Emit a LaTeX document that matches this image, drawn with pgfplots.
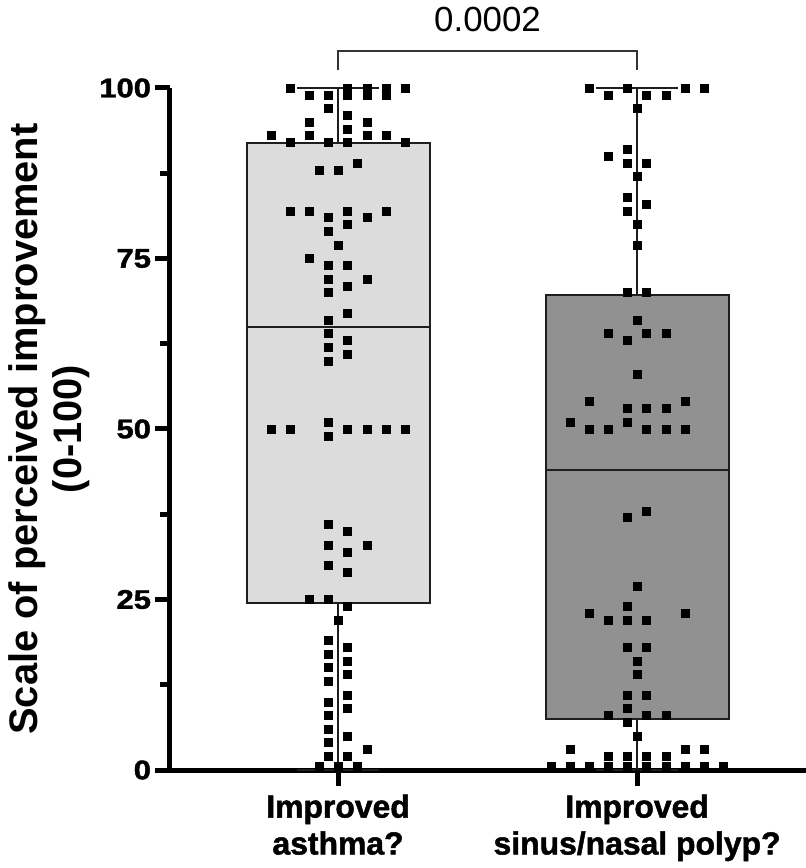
\documentclass[border=0pt]{standalone}
\usepackage{fontspec}
\setmainfont{Liberation Sans}
\newfontfamily\heavy[FakeBold=1.5]{Liberation Sans Bold}
\usepackage{pgfplots}
\pgfplotsset{compat=1.18}
\usepgfplotslibrary{statistics}
\definecolor{boxone}{RGB}{220,220,220}
\definecolor{boxtwo}{RGB}{145,145,145}
\definecolor{boxline}{RGB}{30,30,30}
\begin{document}
\begin{tikzpicture}
\begin{axis}[
  width=636bp, height=682bp, scale only axis,
  xmin=0.438, xmax=2.565, ymin=0, ymax=100,
  axis x line=bottom, axis y line=left,
  axis line style={-, line width=5bp, black},
  clip=false,
  boxplot/draw direction=y,
  /pgf/number format/assume math mode=true,
  xtick={1,2},
  xticklabels={{Improved\\asthma?},{Improved\\sinus/nasal polyp?}},
  xticklabel style={align=center, font=\fontsize{32}{37}\selectfont\heavy, yshift=-6bp},
  ytick={0,25,50,75,100},
  minor ytick={12.5,37.5,62.5,87.5},
  yticklabel style={font=\fontsize{27}{30}\selectfont\heavy, xscale=1.15},
  major tick length=15bp, minor tick length=10bp,
  tick align=outside,
  tick style={line width=5bp, black},
  minor tick style={line width=5bp, black},
  ylabel={Scale of perceived improvement\\(0-100)},
  ylabel style={at={(axis description cs:-0.19,0.5)}, anchor=center, align=center, font=\fontsize{40}{44}\selectfont\bfseries},
]
\addplot[draw=boxline, line width=2bp, fill=boxone,
  boxplot prepared={draw position=1, lower whisker=0, lower quartile=24.5,
    median=65, upper quartile=92, upper whisker=100,
    box extend=0.612, whisker extend=0.274}] coordinates {};
\addplot[draw=boxline, line width=2bp, fill=boxtwo,
  boxplot prepared={draw position=2, lower whisker=0, lower quartile=7.5,
    median=44, upper quartile=69.7, upper whisker=100,
    box extend=0.612, whisker extend=0.274}] coordinates {};
\addplot[only marks, mark=square*, mark size=4bp, black, line width=0.5bp] table {
x y
0.840 100
1.032 100
1.096 100
1.160 100
1.224 100
0.904 99
0.968 99
1.032 99
1.096 99
1.160 99
0.968 97
1.032 96
0.904 95
1.096 95
1.032 94
0.776 93
0.904 93
1.096 93
1.160 93
0.840 92
0.968 92
1.032 92
1.224 92
1.064 89
0.936 88
1.000 88
0.840 82
0.904 82
1.032 82
1.160 82
0.968 81
1.096 81
1.032 80
0.968 79
1.000 77
0.904 75
0.968 74
1.032 74
0.968 72
1.096 72
1.032 71
0.968 70
1.032 67
0.968 66
0.968 64
1.032 63
0.968 62
1.032 61
0.968 60
0.968 51
0.776 50
0.840 50
1.032 50
1.096 50
1.160 50
1.224 50
0.968 49
0.968 36
1.032 35
0.968 33
1.096 33
1.032 32
0.968 30
1.032 29
0.904 25
0.968 25
1.032 24
1.000 22
0.968 19
1.032 18
0.968 17
1.032 16
0.968 15
1.032 14
0.968 13
1.032 11
0.968 10
1.032 9
0.968 8
0.968 6
1.032 5
0.968 4
1.096 3
0.968 2
1.032 2
0.936 0.6
1.000 0.6
1.064 0.6
};
\addplot[only marks, mark=square*, mark size=4bp, black, line width=0.5bp] table {
x y
1.840 100
1.968 100
2.160 100
2.224 100
1.904 99
2.032 99
2.096 99
2.000 97
1.968 91
1.904 90
1.968 89
2.032 89
2.000 87
1.968 84
2.032 83
1.968 82
2.000 80
2.000 77
1.968 70
2.032 70
2.000 66
1.904 64
2.032 64
2.096 64
1.968 63
2.000 58
1.840 54
2.160 54
1.968 53
2.032 53
2.096 53
1.776 51
1.968 51
1.840 50
1.904 50
2.032 50
2.096 50
2.160 50
2.032 38
1.968 37
2.000 27
1.968 24
1.840 23
2.160 23
1.904 22
1.968 22
2.032 22
1.968 18
2.032 18
2.000 16
2.000 14
1.968 11
2.032 11
1.968 9
1.904 8
2.032 8
2.096 8
1.968 7
2.000 5
1.776 3
2.160 3
2.224 3
1.904 2
1.968 2
2.032 2
2.096 2
1.712 0.6
1.776 0.6
1.840 0.6
1.904 0.6
1.968 0.6
2.032 0.6
2.096 0.6
2.160 0.6
2.224 0.6
2.288 0.6
};
\addplot[line width=5bp, black, forget plot] coordinates {(1,0) (1,-2.3)};
\addplot[line width=5bp, black, forget plot] coordinates {(2,0) (2,-2.3)};
\draw[line width=2bp, black!80] (axis cs:1,102.6) -- (axis cs:1,105.4) -- (axis cs:2,105.4) -- (axis cs:2,102.6);
\node[font=\fontsize{35}{40}\selectfont] at (axis cs:1.5,110) {0.0002};
\end{axis}
\pgfresetboundingbox
\path[use as bounding box] (-170bp,-98bp) rectangle (636bp,770bp);
\end{tikzpicture}
\end{document}
